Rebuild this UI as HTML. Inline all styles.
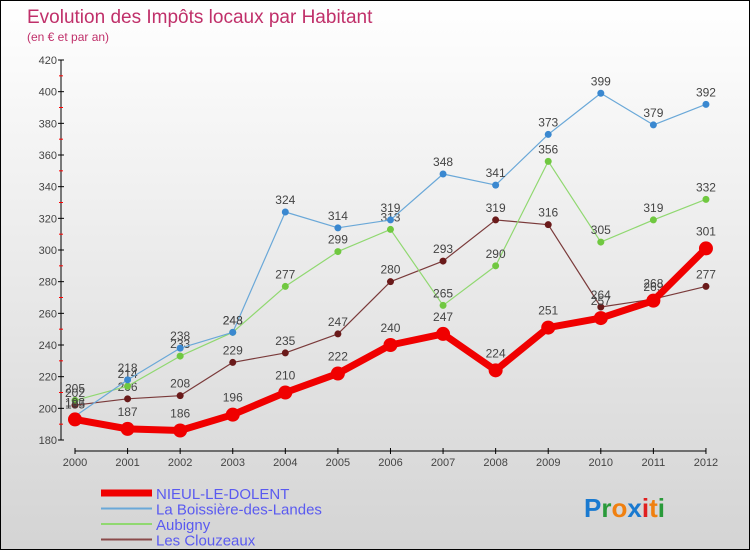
<!DOCTYPE html>
<html><head><meta charset="utf-8"><style>
html,body{margin:0;padding:0}
#c{position:relative;width:748px;height:548px;border:1px solid #000;background:linear-gradient(#fff,#d4d4d4);font-family:"Liberation Sans",sans-serif;overflow:hidden}
svg text{font-family:"Liberation Sans",sans-serif}
</style></head><body>
<div id="c">
<svg width="748" height="548" id="s">
<text x="26" y="22" font-size="19" fill="#c0306a">Evolution des Impôts locaux par Habitant</text>
<text x="26" y="40" font-size="12" fill="#c0306a">(en € et par an)</text>
<g id="axes"></g><g id="series"></g><g id="legend"></g>
<g font-size="26" font-weight="bold">
<text x="583" y="516"><tspan fill="#1a7ad0">P</tspan><tspan fill="#2a9a3a">r</tspan><tspan fill="#f08010">o</tspan><tspan fill="#1a7ad0">x</tspan><tspan fill="#e02020">i</tspan><tspan fill="#f08010">t</tspan><tspan fill="#2a9a3a">i</tspan></text>
</g>
</svg></div>
<script>
const years=[2000,2001,2002,2003,2004,2005,2006,2007,2008,2009,2010,2011,2012];
const nieul=[193,187,186,196,210,222,240,247,224,251,257,268,301];
const boissiere=[195,218,238,248,324,314,319,348,341,373,399,379,392];
const aubigny=[205,214,233,248,277,299,313,265,290,356,305,319,332];
const clouzeaux=[202,206,208,229,235,247,280,293,319,316,264,269,277];
const yTicks=[180,200,220,240,260,280,300,320,340,360,380,400,420];
const NS="http://www.w3.org/2000/svg";
const X=i=>74+i*52.58;
const Y=v=>439-(v-180)*1.5833;
function mk(tag,at,parent){const e=document.createElementNS(NS,tag);for(const k in at)e.setAttribute(k,at[k]);parent.appendChild(e);return e;}
const ax=document.getElementById('axes');
let yl=mk('line',{x1:60,y1:Y(420),x2:60,y2:Y(180),stroke:'#000'},ax);


yTicks.forEach((v,i)=>{
 mk('line',{x1:57,x2:63,y1:Y(v),y2:Y(v),stroke:'#000'},ax);
 if(i<yTicks.length-1) mk('line',{x1:58,x2:62,y1:Y(v+10),y2:Y(v+10),stroke:'#f00'},ax);
 const t=mk('text',{x:56,y:Y(v)+4,'text-anchor':'end','font-size':11,fill:'#444'},ax);
 t.textContent=v;
 
 
});
let xl=mk('line',{x1:X(0),y1:450,x2:X(12),y2:450,stroke:'#000'},ax);


years.forEach((y,i)=>{
 mk('line',{x1:X(i),x2:X(i),y1:447,y2:453,stroke:'#000'},ax);
 const t=mk('text',{x:X(i),y:465,'text-anchor':'middle','font-size':11,fill:'#444'},ax);
 t.textContent=y;
 
 
});
const sg=document.getElementById('series');
const series=[
 {d:clouzeaux,c:'#7a3a3a',dot:'#6a1a1a',w:1.2,r:3.5,n:'les-clouzeaux'},
 {d:aubigny,c:'#90d870',dot:'#70c840',w:1.2,r:3.5,n:'aubigny'},
 {d:boissiere,c:'#6aa8d8',dot:'#3a88d0',w:1.2,r:3.5,n:'la-boissiere-des-landes'},
 {d:nieul,c:'#f00000',dot:'#f00000',w:7,r:7,n:'nieul-le-dolent'}
];
series.forEach(s=>{
 const g=mk('g',{},sg);
 
 
 const p=mk('polyline',{points:s.d.map((v,i)=>X(i)+','+Y(v)).join(' '),fill:'none',stroke:s.c,'stroke-width':s.w,'stroke-linejoin':'round'},g);
 
 
 s.d.forEach((v,i)=>{
  const c=mk('circle',{cx:X(i),cy:Y(v),r:s.r,fill:s.dot},g);
  
  
  const t=mk('text',{x:X(i),y:Y(v)-(s.w>3?13:8),'text-anchor':'middle','font-size':12,fill:'#444'},g);
  t.textContent=v;
  
  
 });
});
const lg=document.getElementById('legend');
const leg=[['NIEUL-LE-DOLENT','#f00000',7],['La Boissière-des-Landes','#6aa8d8',2],['Aubigny','#90d870',2],['Les Clouzeaux','#8a4a4a',2]];
leg.forEach((l,i)=>{
 const y=492+i*15.5;
 const g=mk('g',{},lg);
 
 
 mk('line',{x1:100,x2:151,y1:y,y2:y,stroke:l[1],'stroke-width':l[2]},g);
 const t=mk('text',{x:155,y:y+6,'font-size':15,fill:'#5a5af0'},g);
 t.textContent=l[0];
});
</script></body></html>
